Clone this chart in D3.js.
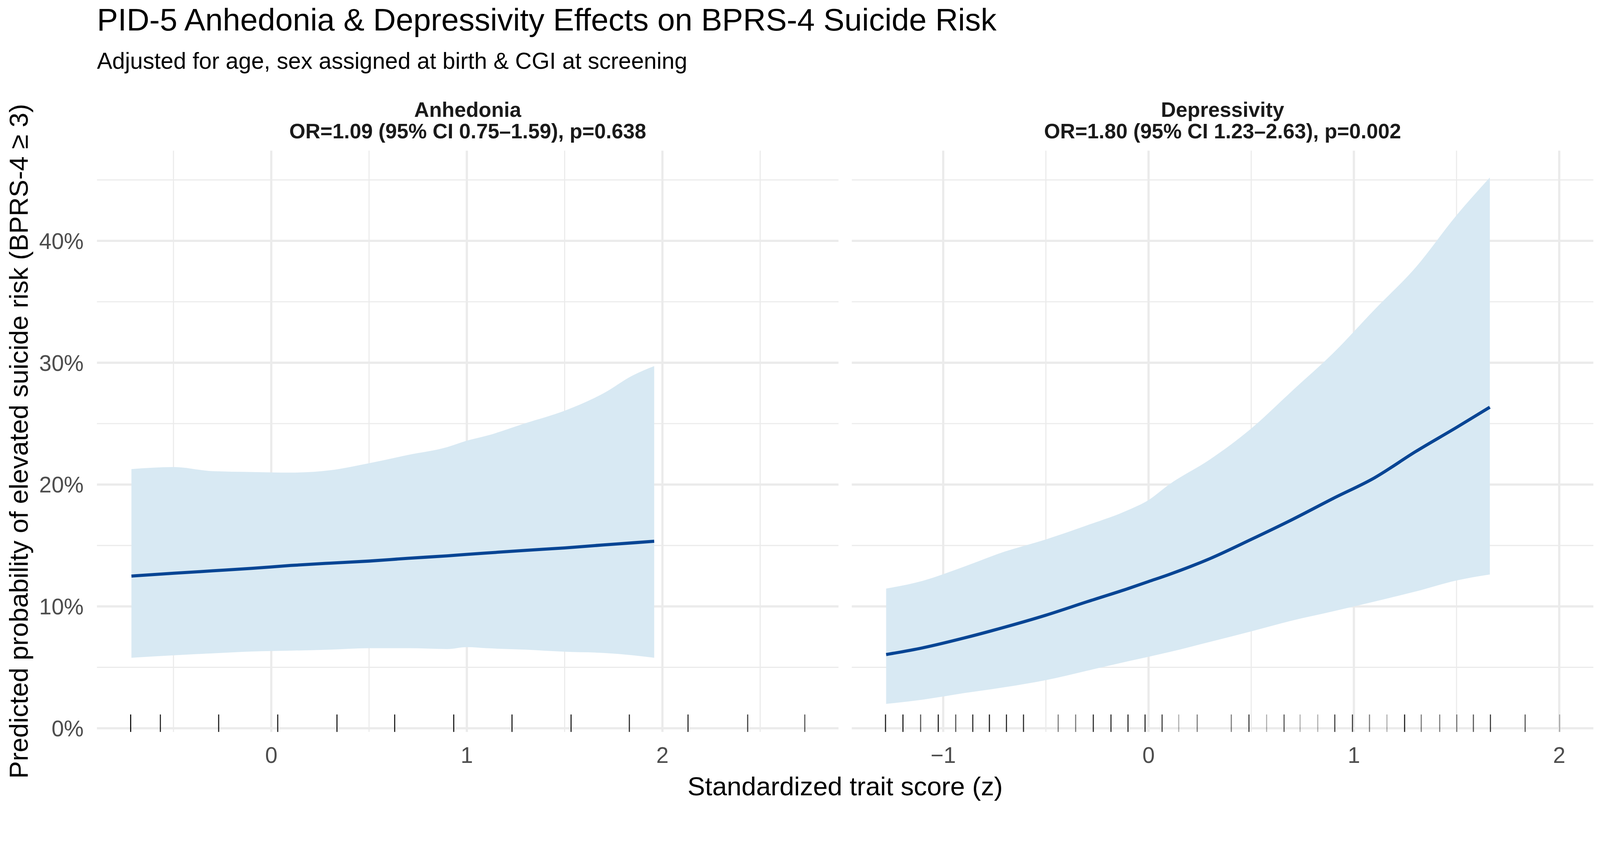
<!DOCTYPE html>
<html>
<head>
<meta charset="utf-8">
<script src="https://cdn.jsdelivr.net/npm/d3@7"></script>
<style>
  html, body { margin: 0; padding: 0; width: 100%; height: 100%; overflow: hidden; background: #fff; }
  #chart { width: 100vw; height: 100vh; }
  svg { display: block; }
  text { font-family: "Liberation Sans", Arial, sans-serif; }
</style>
</head>
<body>
<div id="chart"></div>
<script>
// facet labels
var panels = ["Anhedonia", "Depressivity"];
var stripStats = ["OR=1.09 (95% CI 0.75\u20131.59), p=0.638", "OR=1.80 (95% CI 1.23\u20132.63), p=0.002"];

// Anhedonia: predicted probability (%) and 95% CI
var anhX   = [-0.715, -0.5, -0.3, -0.1, 0.1, 0.3, 0.5, 0.7, 0.9, 1.0, 1.1, 1.3, 1.5, 1.7, 1.85, 1.958];
var anhFit = [12.49, 12.72, 12.92, 13.12, 13.36, 13.55, 13.72, 13.95, 14.15, 14.27, 14.38, 14.6, 14.8, 15.05, 15.22, 15.35];
var anhLo  = [5.79, 5.99, 6.15, 6.3, 6.37, 6.45, 6.57, 6.57, 6.5, 6.66, 6.57, 6.45, 6.28, 6.18, 5.99, 5.79];
var anhHi  = [21.27, 21.44, 21.1, 21.03, 20.98, 21.17, 21.75, 22.43, 23.07, 23.6, 24.0, 25.04, 26.06, 27.5, 28.97, 29.72];

// Depressivity
var depX   = [-1.278, -1.1, -0.9, -0.7, -0.5, -0.3, -0.1, 0, 0.1, 0.3, 0.5, 0.7, 0.9, 1.1, 1.3, 1.5, 1.662];
var depFit = [6.05, 6.6, 7.4, 8.3, 9.28, 10.38, 11.46, 12.04, 12.62, 13.93, 15.5, 17.13, 18.87, 20.55, 22.7, 24.69, 26.35];
var depLo  = [2.0, 2.35, 2.88, 3.37, 3.95, 4.72, 5.5, 5.87, 6.25, 7.09, 7.95, 8.84, 9.6, 10.4, 11.22, 12.13, 12.62];
var depHi  = [11.46, 12.1, 13.25, 14.5, 15.5, 16.65, 17.9, 18.73, 20.0, 22.07, 24.6, 27.7, 30.8, 34.35, 37.8, 42.1, 45.2];

// observed trait scores (rug) and how many people share each score
var anhRug  = [-0.719, -0.567, -0.269, 0.033, 0.336, 0.631, 0.933, 1.231, 1.533, 1.831, 2.131, 2.436, 2.728];
var anhRugN = [8, 5, 6, 6, 6, 6, 6, 6, 6, 5, 5, 4, 3];
var depRug  = [-1.281, -1.196, -1.110, -1.024, -0.939, -0.856, -0.775, -0.692, -0.609, -0.440, -0.355, -0.269,
               -0.183, -0.100, -0.017, 0.066, 0.147, 0.237, 0.403, 0.489, 0.575, 0.660, 0.738, 0.824, 0.907,
               0.993, 1.076, 1.161, 1.247, 1.328, 1.418, 1.501, 1.582, 1.665, 1.834, 2.002];
var depRugN = [6, 6, 3, 6, 3, 5, 6, 5, 5, 2, 2, 5, 5, 5, 5, 4, 1, 2, 2, 4, 1, 3, 1, 1, 4, 4, 2, 1, 6, 2, 2, 2, 3, 4, 3, 1];

var yTicks = [0, 10, 20, 30, 40];
var yMinor = [5, 15, 25, 35, 45];

var W = 4324, H = 2180;
var panelTop = 407, panelBottom = 1977;
var panelX = [[262, 2266], [2302, 4306]];

// fixed 4324x2180 drawing space, scaled to the viewport width and pinned to the top
var svg = d3.select("#chart").append("svg")
  .attr("viewBox", "0 0 " + W + " " + H)
  .attr("preserveAspectRatio", "xMidYMin meet")
  .attr("width", "100%").attr("height", "100%")
  .style("background", "#fff");

var y = d3.scaleLinear().domain([-0.3, 47.4]).range([panelBottom, panelTop]);

var series = [
  { x: anhX, fit: anhFit, lo: anhLo, hi: anhHi, rug: anhRug, rugN: anhRugN },
  { x: depX, fit: depFit, lo: depLo, hi: depHi, rug: depRug, rugN: depRugN }
];

series.forEach(function (s, p) {
  // ggplot style 5% expansion around everything drawn on x
  var ext = d3.extent(s.x.concat(s.rug));
  var pad = (ext[1] - ext[0]) * 0.05;
  var x = d3.scaleLinear().domain([ext[0] - pad, ext[1] + pad]).range(panelX[p]);

  var g = svg.append("g");
  var x0 = panelX[p][0], x1 = panelX[p][1];

  // grid
  var major = d3.range(Math.ceil(x.domain()[0]), Math.floor(x.domain()[1]) + 1);
  var minor = d3.range(Math.ceil(x.domain()[0] - 0.5) + 0.5, x.domain()[1], 1);
  g.selectAll(".ymin").data(yMinor).enter().append("line")
    .attr("x1", x0).attr("x2", x1).attr("y1", d => y(d)).attr("y2", d => y(d))
    .attr("stroke", "#ebebeb").attr("stroke-width", 3);
  g.selectAll(".xmin").data(minor).enter().append("line")
    .attr("x1", d => x(d)).attr("x2", d => x(d)).attr("y1", panelTop).attr("y2", panelBottom)
    .attr("stroke", "#ebebeb").attr("stroke-width", 3);
  g.selectAll(".ymaj").data(yTicks).enter().append("line")
    .attr("x1", x0).attr("x2", x1).attr("y1", d => y(d)).attr("y2", d => y(d))
    .attr("stroke", "#ebebeb").attr("stroke-width", 6);
  g.selectAll(".xmaj").data(major).enter().append("line")
    .attr("x1", d => x(d)).attr("x2", d => x(d)).attr("y1", panelTop).attr("y2", panelBottom)
    .attr("stroke", "#ebebeb").attr("stroke-width", 6);

  // confidence ribbon
  var band = s.x.map((v, i) => ({ x: v, lo: s.lo[i], hi: s.hi[i], fit: s.fit[i] }));
  g.append("path").datum(band)
    .attr("d", d3.area().x(d => x(d.x)).y0(d => y(d.lo)).y1(d => y(d.hi)).curve(d3.curveMonotoneX))
    .attr("fill", "#d8e9f3");

  // fitted line
  g.append("path").datum(band)
    .attr("d", d3.line().x(d => x(d.x)).y(d => y(d.fit)).curve(d3.curveMonotoneX))
    .attr("fill", "none")
    .attr("stroke", "#084594")
    .attr("stroke-width", 8.5);

  // rug
  var rugLen = (panelBottom - panelTop) * 0.03;
  g.selectAll(".rug").data(s.rug).enter().append("line")
    .attr("x1", d => x(d)).attr("x2", d => x(d))
    .attr("y1", panelBottom).attr("y2", panelBottom - rugLen)
    .attr("stroke", "#000")
    .attr("stroke-width", 3)
    .attr("stroke-opacity", (d, i) => 1 - Math.pow(0.7, s.rugN[i]));

  // x tick labels
  g.selectAll(".xt").data(major).enter().append("text")
    .attr("x", d => x(d)).attr("y", 2061)
    .attr("text-anchor", "middle")
    .attr("font-size", 60).attr("fill", "#4d4d4d")
    .text(d => d < 0 ? "\u2212" + Math.abs(d) : d);

  // strip text
  var cx = (x0 + x1) / 2;
  g.append("text").attr("x", cx).attr("y", 316)
    .attr("text-anchor", "middle").attr("font-size", 56).attr("font-weight", "bold").attr("fill", "#1a1a1a")
    .text(panels[p]);
  g.append("text").attr("x", cx).attr("y", 374)
    .attr("text-anchor", "middle").attr("font-size", 56).attr("font-weight", "bold").attr("fill", "#1a1a1a")
    .text(stripStats[p]);
});

// y tick labels (left panel only)
svg.selectAll(".yt").data(yTicks).enter().append("text")
  .attr("x", 226).attr("y", d => y(d)).attr("dy", "0.36em")
  .attr("text-anchor", "end")
  .attr("font-size", 60).attr("fill", "#4d4d4d")
  .text(d => d + "%");

// titles
svg.append("text").attr("x", 262).attr("y", 82)
  .attr("font-size", 85).attr("fill", "#000")
  .text("PID-5 Anhedonia & Depressivity Effects on BPRS-4 Suicide Risk");
svg.append("text").attr("x", 262).attr("y", 186)
  .attr("font-size", 62).attr("fill", "#000")
  .text("Adjusted for age, sex assigned at birth & CGI at screening");

svg.append("text").attr("x", (262 + 4306) / 2).attr("y", 2148)
  .attr("text-anchor", "middle").attr("font-size", 71).attr("fill", "#000")
  .text("Standardized trait score (z)");

svg.append("text")
  .attr("transform", "translate(75," + (panelTop + panelBottom) / 2 + ") rotate(-90)")
  .attr("text-anchor", "middle").attr("font-size", 71).attr("fill", "#000")
  .text("Predicted probability of elevated suicide risk (BPRS-4 \u2265 3)");
</script>
</body>
</html>
